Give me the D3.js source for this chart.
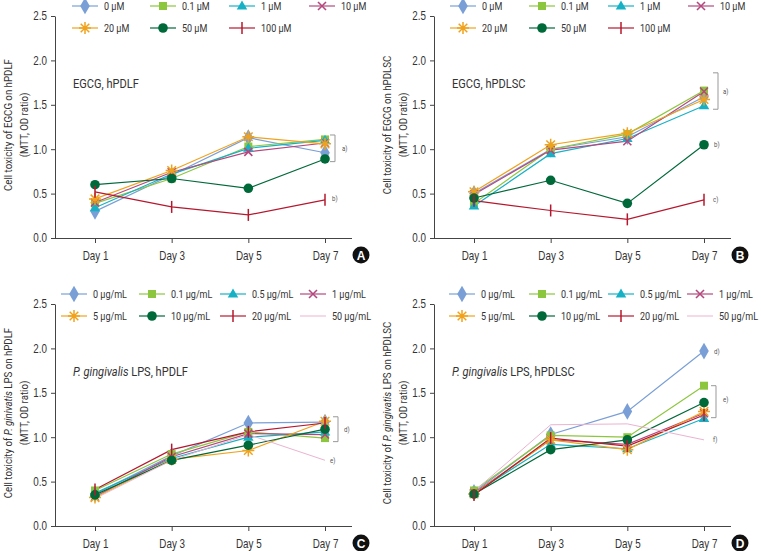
<!DOCTYPE html>
<html>
<head>
<meta charset="utf-8">
<script src="https://cdn.jsdelivr.net/npm/d3@7"></script>
<style>
  body { margin: 0; background: #fff; }
  svg { display: block; font-family: Roboto, "Liberation Sans", sans-serif; }
  .tick text { font-size: 12px; fill: #333; }
  .tick line, .domain { stroke: #444; }
</style>
</head>
<body>
<svg id="chart" width="761" height="551"></svg>
<script>
// categories and tick labels
var days = ['Day 1', 'Day 3', 'Day 5', 'Day 7'];
var yTicks = [0, 0.5, 1.0, 1.5, 2.0, 2.5];
var egcgDoses = ['0 μM', '0.1 μM', '1 μM', '10 μM', '20 μM', '50 μM', '100 μM'];
var lpsDoses = ['0 μg/mL', '0.1 μg/mL', '0.5 μg/mL', '1 μg/mL', '5 μg/mL', '10 μg/mL', '20 μg/mL', '50 μg/mL'];

// series values (MTT, OD ratio) per dose, Day 1/3/5/7
var egcgPdlf = [
    [0.30, 0.71, 1.13, 0.96],
    [0.39, 0.67, 1.03, 1.11],
    [0.34, 0.72, 1.01, 1.10],
    [0.40, 0.74, 0.97, 1.07],
    [0.44, 0.76, 1.14, 1.06],
    [0.60, 0.67, 0.56, 0.89],
    [0.52, 0.35, 0.26, 0.43]
];
var egcgPdlsc = [
    [0.50, 1.00, 1.14, 1.59],
    [0.39, 1.00, 1.17, 1.66],
    [0.36, 0.95, 1.12, 1.49],
    [0.49, 0.99, 1.09, 1.65],
    [0.52, 1.05, 1.18, 1.56],
    [0.45, 0.65, 0.39, 1.05],
    [0.42, 0.31, 0.21, 0.43]
];
var lpsPdlf = [
    [0.36, 0.79, 1.16, 1.17],
    [0.40, 0.81, 1.06, 0.99],
    [0.37, 0.76, 1.00, 1.06],
    [0.33, 0.78, 1.04, 1.03],
    [0.32, 0.75, 0.85, 1.18],
    [0.35, 0.74, 0.91, 1.09],
    [0.41, 0.86, 1.06, 1.16],
    [0.31, 0.74, 1.03, 0.74]
];
var lpsPdlsc = [
    [0.38, 1.03, 1.29, 1.97],
    [0.40, 1.02, 1.00, 1.58],
    [0.37, 0.92, 0.87, 1.21],
    [0.37, 0.97, 0.92, 1.27],
    [0.36, 0.97, 0.86, 1.29],
    [0.36, 0.86, 0.97, 1.39],
    [0.35, 0.99, 0.90, 1.25],
    [0.39, 1.14, 1.15, 0.97]
];

// marker styles, in dose order
var styles = [
    { color: '#7a9fd6', marker: 'diamond' },
    { color: '#8cc63e', marker: 'square' },
    { color: '#17b1c6', marker: 'triangle' },
    { color: '#b4487e', marker: 'x' },
    { color: '#f0a21c', marker: 'star' },
    { color: '#00693a', marker: 'circle' },
    { color: '#b5182e', marker: 'tick' },
    { color: '#ebb3d0', marker: 'none' }
];

var panels = [
    { ox: 0, oy: 0, data: egcgPdlf, doses: egcgDoses, letter: 'A',
      ylab: [['Cell toxicity of EGCG on hPDLF', false]],
      title: [['EGCG, hPDLF', false]],
      legendX: [30, 108, 187, 267],
      brackets: [{ hi: 1.16, lo: 0.86, dx: 10 }],
      notes: [{ t: 'a)', v: 1.01, dx: 17 }, { t: 'b)', v: 0.44, dx: 7 }] },
    { ox: 379, oy: 0, data: egcgPdlsc, doses: egcgDoses, letter: 'B',
      ylab: [['Cell toxicity of EGCG on hPDLSC', false]],
      title: [['EGCG, hPDLSC', false]],
      legendX: [29, 108, 187, 267],
      brackets: [{ hi: 1.86, lo: 1.45, dx: 14 }],
      notes: [{ t: 'a)', v: 1.65, dx: 19 }, { t: 'b)', v: 1.05, dx: 10 }, { t: 'c)', v: 0.43, dx: 9 }] },
    { ox: 0, oy: 288, data: lpsPdlf, doses: lpsDoses, letter: 'C',
      ylab: [['Cell toxicity of ', false], ['P. ginivatis', true], [' LPS on hPDLF', false]],
      title: [['P. gingivalis', true], [' LPS, hPDLF', false]],
      legendX: [19, 97, 178, 258],
      brackets: [{ hi: 1.23, lo: 0.95, dx: 13 }],
      notes: [{ t: 'd)', v: 1.09, dx: 19 }, { t: 'e)', v: 0.74, dx: 5 }] },
    { ox: 379, oy: 288, data: lpsPdlsc, doses: lpsDoses, letter: 'D',
      ylab: [['Cell toxicity of ', false], ['P. gingivatis', true], [' LPS on hPDLSC', false]],
      title: [['P. gingivalis', true], [' LPS, hPDLSC', false]],
      legendX: [28, 108, 187, 266],
      brackets: [{ hi: 1.58, lo: 1.22, dx: 12 }],
      notes: [{ t: 'd)', v: 1.97, dx: 10 }, { t: 'e)', v: 1.42, dx: 19 }, { t: 'f)', v: 0.97, dx: 9 }] }
];

const svg = d3.select('#chart');
const axisX = 55, plotTop = 16, plotBottom = 238, axisEnd = 352;
const narrow = 0.82;   // the original uses a condensed face

function drawMarker(g, kind, color, x, y) {
    if (kind === 'diamond') {
        g.append('path').attr('d', d3.symbol(d3.symbolDiamond, 80)())
            .attr('transform', 'translate(' + x + ',' + y + ')').attr('fill', color);
    } else if (kind === 'square') {
        g.append('path').attr('d', d3.symbol(d3.symbolSquare, 64)())
            .attr('transform', 'translate(' + x + ',' + y + ')').attr('fill', color);
    } else if (kind === 'triangle') {
        g.append('path').attr('d', d3.symbol(d3.symbolTriangle, 48)())
            .attr('transform', 'translate(' + x + ',' + (y + 0.5) + ')').attr('fill', color);
    } else if (kind === 'circle') {
        g.append('circle').attr('cx', x).attr('cy', y).attr('r', 4.8).attr('fill', color);
    } else if (kind === 'x') {
        g.append('path').attr('d', 'M-4,-4L4,4M-4,4L4,-4')
            .attr('transform', 'translate(' + x + ',' + y + ')')
            .attr('stroke', color).attr('stroke-width', 1.6).attr('fill', 'none');
    } else if (kind === 'star') {
        g.append('path').attr('d', 'M0,-6V6M-6,0H6M-4.3,-4.3L4.3,4.3M-4.3,4.3L4.3,-4.3')
            .attr('transform', 'translate(' + x + ',' + y + ')')
            .attr('stroke', color).attr('stroke-width', 1.5).attr('fill', 'none');
    } else if (kind === 'tick') {
        g.append('path').attr('d', 'M0,-6V6')
            .attr('transform', 'translate(' + x + ',' + y + ')')
            .attr('stroke', color).attr('stroke-width', 1.5).attr('fill', 'none');
    }
}

function label(parent, x, y, size, rot) {
    return parent.append('text')
        .attr('transform', 'translate(' + x + ',' + y + ')' + (rot ? ' rotate(' + rot + ')' : '') + ' scale(' + narrow + ',1)')
        .attr('font-size', size).attr('fill', '#333');
}

function richText(sel, parts) {
    parts.forEach(function (p) {
        sel.append('tspan').attr('font-style', p[1] ? 'italic' : 'normal').text(p[0]);
    });
}

panels.forEach(function (p) {
    const g = svg.append('g').attr('transform', 'translate(' + p.ox + ',' + p.oy + ')');

    const x = d3.scalePoint().domain(days).range([95, 325]);
    const y = d3.scaleLinear().domain([0, 2.5]).range([plotBottom, plotTop]);

    // axes
    const xg = g.append('g').attr('transform', 'translate(0,' + plotBottom + ')')
        .call(d3.axisBottom(x).tickSize(5).tickPadding(8));
    xg.select('.domain').remove();
    xg.selectAll('.tick text').attr('transform', 'scale(' + narrow + ',1)');
    g.append('line').attr('x1', axisX).attr('x2', axisEnd)
        .attr('y1', plotBottom + 0.5).attr('y2', plotBottom + 0.5)
        .attr('stroke', '#444');

    const yg = g.append('g').attr('transform', 'translate(' + axisX + ',0)')
        .call(d3.axisLeft(y).tickValues(yTicks).tickFormat(d3.format('.1f'))
            .tickSize(4).tickSizeOuter(0).tickPadding(5));
    yg.selectAll('.tick text').attr('x', -8 / narrow).attr('transform', 'scale(' + narrow + ',1)');

    // y label (two lines)
    const ly = (plotTop + plotBottom) / 2 - 2;
    richText(label(g, 12, ly, 11.8, -90).attr('text-anchor', 'middle'), p.ylab);
    label(g, 27.5, ly, 11.8, -90).attr('text-anchor', 'middle').text('(MTT, OD ratio)');

    // panel title
    richText(label(g, axisX + 18, 88, 13.5, 0), p.title);

    // series
    const line = d3.line().x(function (d, i) { return x(days[i]); }).y(function (d) { return y(d); });
    p.data.forEach(function (vals, si) {
        const st = styles[si];
        g.append('path').attr('d', line(vals)).attr('fill', 'none')
            .attr('stroke', st.color).attr('stroke-width', st.marker === 'none' ? 1 : 1.2);
    });
    p.data.forEach(function (vals, si) {
        const st = styles[si];
        vals.forEach(function (v, i) { drawMarker(g, st.marker, st.color, x(days[i]), y(v)); });
    });

    // significance brackets and notes
    const x7 = x(days[3]);
    p.brackets.forEach(function (b) {
        const bx = x7 + b.dx;
        g.append('path')
            .attr('d', 'M' + (bx - 5) + ',' + y(b.hi) + 'H' + bx + 'V' + y(b.lo) + 'H' + (bx - 5))
            .attr('fill', 'none').attr('stroke', '#999').attr('stroke-width', 1);
    });
    p.notes.forEach(function (n) {
        label(g, x7 + n.dx, y(n.v) + 2.5, 7.5, 0).attr('fill', '#555').text(n.t);
    });

    // legend
    p.doses.forEach(function (d, i) {
        const st = styles[i];
        const lx = axisX + p.legendX[i % 4];
        const lyy = i < 4 ? 6 : 28;
        g.append('line').attr('x1', lx - 13).attr('x2', lx + 13).attr('y1', lyy).attr('y2', lyy)
            .attr('stroke', st.color).attr('stroke-width', st.marker === 'none' ? 1 : 1.2);
        drawMarker(g, st.marker, st.color, lx, lyy);
        label(g, lx + 19, lyy + 4, 11, 0).text(d);
    });

    // panel letter
    g.append('circle').attr('cx', 361).attr('cy', 255).attr('r', 8.5).attr('fill', '#111');
    g.append('text').attr('x', 361).attr('y', 259.5).attr('text-anchor', 'middle')
        .attr('font-size', 12).attr('font-weight', 'bold').attr('fill', '#fff')
        .attr('font-family', 'Liberation Sans, Arial, sans-serif').text(p.letter);
});
</script>
</body>
</html>
